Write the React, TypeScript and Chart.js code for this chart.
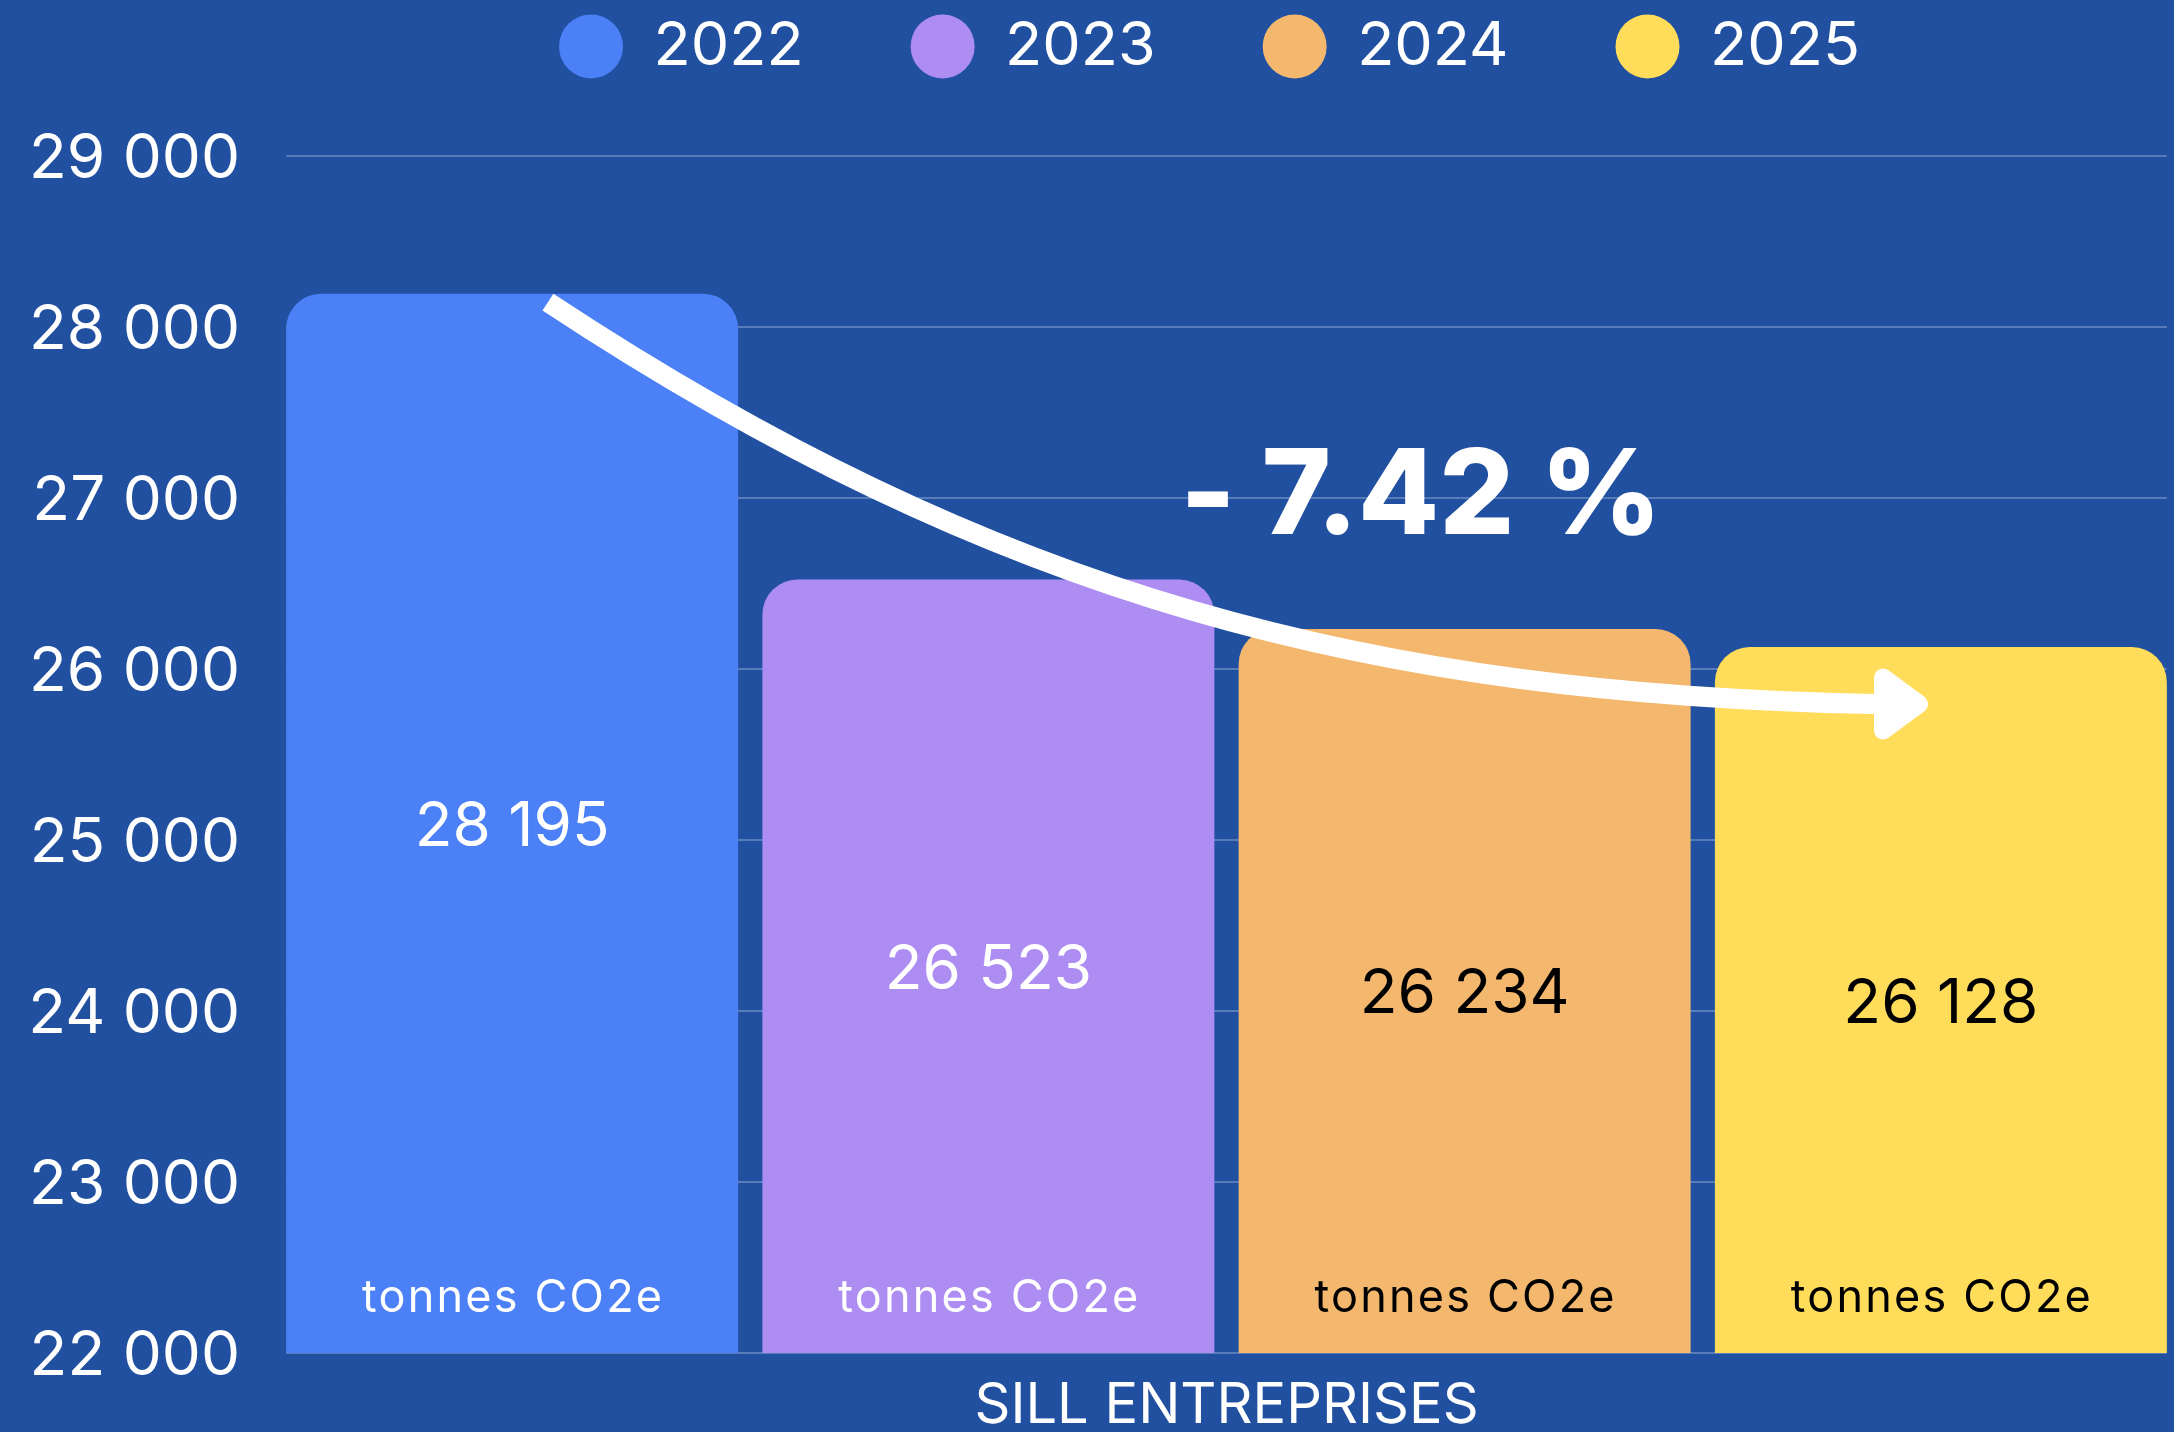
import React, { useEffect, useRef } from 'react';
import { Chart, registerables } from 'chart.js';

Chart.register(...registerables);

// ---------- data ----------
const categories = ['SILL ENTREPRISES'];
const years = ['2022', '2023', '2024', '2025'];
const emissions = [28195, 26523, 26234, 26128];
const unitLabel = 'tonnes CO2e';
const changeLabel = '- 7.42 %';
const yMin = 22000;
const yMax = 29000;
const yStep = 1000;

// ---------- styles ----------
const BG = '#2150A0';
const GRID = 'rgba(255,255,255,0.25)';
const FONT = 'Inter';
const barColors = ['#4B80F6', '#AE8DF3', '#F3B86E', '#FFDD5A'];
const valueTextColors = ['#FFFFFF', '#FFFFFF', '#000000', '#000000'];

// annotation arrow: x as fraction of plot width, y in data units
const arrowFx = [0.1438, 0.3801, 0.5774, 0.8399];
const arrowVal = [28146, 26409, 25854, 25795];
const changeLabelFx = 0.6016;
const changeLabelVal = 26789;

const fmt = (v: number) => String(Math.round(v)).replace(/\B(?=(\d{3})+(?!\d))/g, ' ');

const legendFitPlugin = {
  id: 'legendFit',
  beforeInit(chart: any) {
    const legend = chart.legend;
    if (!legend) return;
    const origFit = legend.fit;
    legend.fit = function () {
      origFit.call(this);
      this.height = 253;
    };
    const origDraw = legend.draw;
    legend.draw = function (...args: any[]) {
      const c = this.ctx;
      c.save();
      c.translate(-17, 6);
      origDraw.apply(this, args);
      c.restore();
    };
  },
};

const decorPlugin = {
  id: 'decor',
  beforeDatasetsDraw(chart: any) {
    const ctx = chart.ctx;
    const ys = chart.scales.y;
    const n = chart.data.datasets.length;
    const first: any = chart.getDatasetMeta(0).data[0];
    const last: any = chart.getDatasetMeta(n - 1).data[0];
    const x0 = first.x - first.width / 2;
    const x1 = last.x + last.width / 2;
    ctx.save();
    ctx.strokeStyle = GRID;
    ctx.lineWidth = 2;
    for (const t of ys.ticks) {
      const py = Math.round(ys.getPixelForValue(t.value));
      ctx.beginPath();
      ctx.moveTo(x0, py);
      ctx.lineTo(x1, py);
      ctx.stroke();
    }
    ctx.restore();
  },
  afterDatasetsDraw(chart: any) {
    const ctx = chart.ctx;
    const ca = chart.chartArea;
    const ys = chart.scales.y;
    ctx.save();
    const n = chart.data.datasets.length;
    const basePx = ys.getPixelForValue(yMin);
    for (let i = 0; i < n; i++) {
      const el: any = chart.getDatasetMeta(i).data[0];
      const bx = Number(el.x);
      const val = Number(chart.data.datasets[i].data[0]);
      const topPx = ys.getPixelForValue(val);
      ctx.fillStyle = valueTextColors[i];
      ctx.textAlign = 'center';
      ctx.textBaseline = 'alphabetic';
      ctx.font = '62px Inter';
      (ctx as any).letterSpacing = '0px';
      ctx.fillText(fmt(val), bx, (topPx + basePx) / 2 + 22.5);
      ctx.font = '45px Inter';
      (ctx as any).letterSpacing = '2.2px';
      ctx.fillText(unitLabel, bx + 1, basePx - 41);
      (ctx as any).letterSpacing = '0px';
    }

    // arrow
    const px = (f: number) => ca.left + f * (ca.right - ca.left);
    const pts = arrowFx.map((f, k) => [px(f), ys.getPixelForValue(arrowVal[k])]);
    ctx.strokeStyle = '#FFFFFF';
    ctx.fillStyle = '#FFFFFF';
    ctx.lineWidth = 20;
    ctx.lineCap = 'butt';
    ctx.beginPath();
    ctx.moveTo(pts[0][0], pts[0][1]);
    ctx.bezierCurveTo(pts[1][0], pts[1][1], pts[2][0], pts[2][1], pts[3][0], pts[3][1]);
    ctx.stroke();
    const ex = pts[3][0];
    const ey = pts[3][1];
    ctx.lineJoin = 'round';
    ctx.lineWidth = 18;
    ctx.beginPath();
    ctx.moveTo(ex + 9, ey - 26.5);
    ctx.lineTo(ex + 45, ey);
    ctx.lineTo(ex + 9, ey + 26.5);
    ctx.closePath();
    ctx.fill();
    ctx.stroke();

    // change label
    ctx.font = '800 118px Inter';
    ctx.textAlign = 'center';
    ctx.textBaseline = 'alphabetic';
    ctx.fillText(changeLabel, px(changeLabelFx) + 1, ys.getPixelForValue(changeLabelVal));
    ctx.restore();
  },
};

export default function App() {
  const ref = useRef<HTMLCanvasElement>(null);
  useEffect(() => {
    if (!ref.current) return;
    document.body.style.margin = '0';
    document.body.style.background = BG;
    const chart = new Chart(ref.current, {
      type: 'bar',
      data: {
        labels: categories,
        datasets: years.map((yr, i) => ({
          label: yr,
          data: [emissions[i]],
          backgroundColor: barColors[i],
          borderWidth: 0,
          borderRadius: { topLeft: 35, topRight: 35, bottomLeft: 0, bottomRight: 0 },
          categoryPercentage: 1,
          barPercentage: 0.949,
        })),
      },
      options: {
        responsive: false,
        animation: false,
        devicePixelRatio: 1,
        layout: { padding: { left: 0, right: 0, top: -97, bottom: 0 } },
        plugins: {
          legend: {
            display: true,
            position: 'top',
            align: 'center',
            fullSize: false,
            labels: {
              color: '#FFFFFF',
              font: { family: FONT, size: 61 },
              usePointStyle: true,
              pointStyle: 'circle',
              pointStyleWidth: 64,
              boxHeight: 45.25,
              padding: 107,
            },
          },
          tooltip: { enabled: false },
        },
        scales: {
          x: {
            grid: { display: false, drawTicks: false },
            border: { display: false },
            ticks: { color: '#FFFFFF', font: { family: FONT, size: 56 }, padding: 20, maxRotation: 0 },
            afterFit: (s: any) => {
              s.height = 79;
            },
          },
          y: {
            min: yMin,
            max: yMax,
            grid: { display: false, drawTicks: false },
            border: { display: false },
            ticks: {
              stepSize: yStep,
              color: '#FFFFFF',
              font: { family: FONT, size: 62 },
              padding: 34,
              labelOffset: 3,
              callback: (v: any) => fmt(Number(v)),
            },
            afterFit: (s: any) => {
              s.width = 274;
            },
          },
        },
      } as any,
      plugins: [legendFitPlugin, decorPlugin],
    });
    return () => chart.destroy();
  }, []);
  return (
    <div
      style={{
        position: 'fixed',
        left: 0,
        top: 0,
        width: '100vw',
        height: '100vh',
        overflow: 'hidden',
        background: BG,
      }}
    >
      <canvas ref={ref} width={2179} height={1432} style={{ display: 'block', width: 2179, height: 1432 }} />
    </div>
  );
}
